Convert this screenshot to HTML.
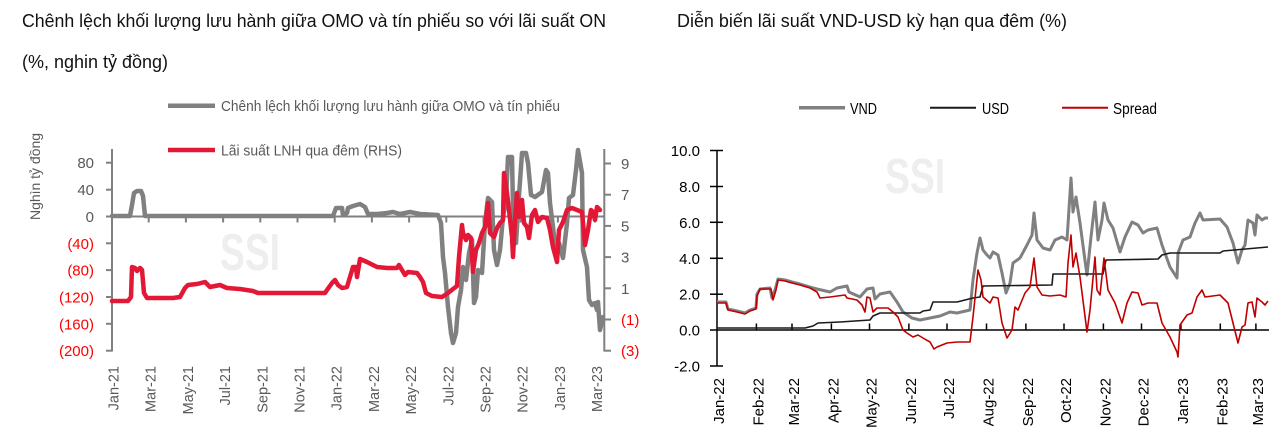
<!DOCTYPE html>
<html>
<head>
<meta charset="utf-8">
<style>
html,body{margin:0;padding:0;background:#fff;}
svg{display:block;}
text{font-family:"Liberation Sans","Noto Sans CJK SC",sans-serif;}
</style>
</head>
<body>
<svg width="1284" height="433" viewBox="0 0 1284 433" xmlns="http://www.w3.org/2000/svg">
<rect x="0" y="0" width="1284" height="433" fill="#fff"/>

<!-- Titles -->
<text x="22" y="27" font-size="18" fill="#111" textLength="584" lengthAdjust="spacingAndGlyphs">Chênh lệch khối lượng lưu hành giữa OMO và tín phiếu so với lãi suất ON</text>
<text x="22" y="68" font-size="18" fill="#111" textLength="146" lengthAdjust="spacingAndGlyphs">(%, nghin tỷ đồng)</text>
<text x="677" y="27" font-size="18" fill="#111" textLength="390" lengthAdjust="spacingAndGlyphs">Diễn biến lãi suất VND-USD kỳ hạn qua đêm (%)</text>

<!-- Watermarks -->
<text x="220" y="270" font-size="52" font-weight="bold" fill="#eeeeee" textLength="60" lengthAdjust="spacingAndGlyphs">SSI</text>
<text x="885" y="193" font-size="49" font-weight="bold" fill="#eeeeee" textLength="60" lengthAdjust="spacingAndGlyphs">SSI</text>

<!-- ================= LEFT CHART ================= -->
<!-- legend -->
<line x1="168" y1="105.7" x2="215" y2="105.7" stroke="#808080" stroke-width="4.5"/>
<text x="221" y="111" font-size="15" fill="#595959" textLength="339" lengthAdjust="spacingAndGlyphs">Chênh lệch khối lượng lưu hành giữa OMO và tín phiếu</text>
<line x1="168" y1="150" x2="215" y2="150" stroke="#E31837" stroke-width="4.5"/>
<text x="221" y="155.5" font-size="15" fill="#595959" textLength="181" lengthAdjust="spacingAndGlyphs">Lãi suất LNH qua đêm (RHS)</text>

<!-- y axis title -->
<text transform="translate(40,176.5) rotate(-90)" text-anchor="middle" font-size="14" fill="#595959" textLength="87" lengthAdjust="spacingAndGlyphs">Nghìn tỷ đồng</text>

<!-- left axis -->
<g stroke="#808080" stroke-width="2" fill="none">
<line x1="112" y1="149" x2="112" y2="351.5"/>
<line x1="106" y1="162.7" x2="112" y2="162.7"/>
<line x1="106" y1="189.7" x2="112" y2="189.7"/>
<line x1="106" y1="216.5" x2="112" y2="216.5"/>
<line x1="106" y1="243.3" x2="112" y2="243.3"/>
<line x1="106" y1="270.1" x2="112" y2="270.1"/>
<line x1="106" y1="297" x2="112" y2="297"/>
<line x1="106" y1="323.8" x2="112" y2="323.8"/>
<line x1="106" y1="350.7" x2="112" y2="350.7"/>
<!-- right axis -->
<line x1="604.3" y1="149" x2="604.3" y2="351.5"/>
<line x1="604.3" y1="163.5" x2="611" y2="163.5"/>
<line x1="604.3" y1="194.7" x2="611" y2="194.7"/>
<line x1="604.3" y1="225.9" x2="611" y2="225.9"/>
<line x1="604.3" y1="257.1" x2="611" y2="257.1"/>
<line x1="604.3" y1="288.3" x2="611" y2="288.3"/>
<line x1="604.3" y1="319.5" x2="611" y2="319.5"/>
<line x1="604.3" y1="350.7" x2="611" y2="350.7"/>
<!-- zero line -->
<line x1="112" y1="216.5" x2="604.3" y2="216.5"/>
<!-- x ticks -->
<line x1="148.7" y1="216.5" x2="148.7" y2="222.5"/>
<line x1="185.9" y1="216.5" x2="185.9" y2="222.5"/>
<line x1="223.1" y1="216.5" x2="223.1" y2="222.5"/>
<line x1="260.3" y1="216.5" x2="260.3" y2="222.5"/>
<line x1="297.5" y1="216.5" x2="297.5" y2="222.5"/>
<line x1="334.7" y1="216.5" x2="334.7" y2="222.5"/>
<line x1="371.9" y1="216.5" x2="371.9" y2="222.5"/>
<line x1="409.1" y1="216.5" x2="409.1" y2="222.5"/>
<line x1="446.3" y1="216.5" x2="446.3" y2="222.5"/>
<line x1="483.5" y1="216.5" x2="483.5" y2="222.5"/>
<line x1="520.7" y1="216.5" x2="520.7" y2="222.5"/>
<line x1="557.9" y1="216.5" x2="557.9" y2="222.5"/>
<line x1="595.1" y1="216.5" x2="595.1" y2="222.5"/>
</g>

<!-- left y labels -->
<g font-size="15" text-anchor="end">
<text x="94" y="168" fill="#595959">80</text>
<text x="94" y="195" fill="#595959">40</text>
<text x="94" y="222" fill="#595959">0</text>
<text x="94" y="248.8" fill="#FF0000">(40)</text>
<text x="94" y="275.6" fill="#FF0000">(80)</text>
<text x="94" y="302.5" fill="#FF0000">(120)</text>
<text x="94" y="329.3" fill="#FF0000">(160)</text>
<text x="94" y="356.2" fill="#FF0000">(200)</text>
</g>
<!-- right y labels -->
<g font-size="15">
<text x="621" y="169" fill="#595959">9</text>
<text x="621" y="200.2" fill="#595959">7</text>
<text x="621" y="231.4" fill="#595959">5</text>
<text x="621" y="262.6" fill="#595959">3</text>
<text x="621" y="293.8" fill="#595959">1</text>
<text x="621" y="325" fill="#FF0000">(1)</text>
<text x="621" y="356.2" fill="#FF0000">(3)</text>
</g>

<!-- left x labels -->
<g font-size="14.5" fill="#595959" text-anchor="end">
<text transform="translate(118.5,366) rotate(-90)">Jan-21</text>
<text transform="translate(155.7,366) rotate(-90)">Mar-21</text>
<text transform="translate(192.9,366) rotate(-90)">May-21</text>
<text transform="translate(230.1,366) rotate(-90)">Jul-21</text>
<text transform="translate(267.3,366) rotate(-90)">Sep-21</text>
<text transform="translate(304.5,366) rotate(-90)">Nov-21</text>
<text transform="translate(341.7,366) rotate(-90)">Jan-22</text>
<text transform="translate(378.9,366) rotate(-90)">Mar-22</text>
<text transform="translate(416.1,366) rotate(-90)">May-22</text>
<text transform="translate(453.3,366) rotate(-90)">Jul-22</text>
<text transform="translate(490.5,366) rotate(-90)">Sep-22</text>
<text transform="translate(527.7,366) rotate(-90)">Nov-22</text>
<text transform="translate(564.9,366) rotate(-90)">Jan-23</text>
<text transform="translate(602.1,366) rotate(-90)">Mar-23</text>
</g>

<!-- left gray series -->
<polyline fill="none" stroke="#808080" stroke-width="4.5" stroke-linejoin="round" stroke-linecap="round" points="112,216 130,216 132,205 134,193 137,191 141,191 143,196 145,216 333,216 336,208 342,208 343,215 347,213 348,208 353,206 360,204 365,207 368,214 377,214 387,213 393,212 400,214 410,212 420,214 438,215 441,223 443,257 445,273 448,307 451,333 453,343 456,333 458,307 461,290 463,267 466,280 469,253 472,240 474,303 476,297 478,270 482,273 485,223 488,198 492,202 494,250 497,265 500,250 503,217 506,200 508,157 512,157 513,207 516,243 518,210 522,153 526,153 528,163 531,195 535,197 542,192 546,170 548,173 550,203 553,227 556,253 559,243 563,258 567,223 569,198 573,195 576,170 578,150 582,173 583,250 587,267 589,300 592,305 595,303 597,310 598,302 600,330 603,317"/>

<!-- left red series -->
<polyline fill="none" stroke="#E31837" stroke-width="4.5" stroke-linejoin="round" stroke-linecap="round" points="112,301 128,301 131,297 132,267 135,268 137,271 140,268 142,270 144,293 147,298 173,298 180,297 185,288 188,285 197,284 205,282 210,287 220,285 227,288 240,289 253,291 258,293 283,293 325,293 327,290 332,283 335,280 338,285 342,288 347,287 350,277 353,267 356,267 357,277 360,259 367,262 377,267 387,268 397,268 399,265 405,275 408,272 417,273 420,277 423,282 426,293 432,296 442,297 448,293 453,289 457,286 459,257 462,225 463,233 466,240 468,235 471,238 473,272 476,250 479,243 482,233 485,227 488,203 490,233 494,237 497,228 500,223 503,220 504,173 507,193 509,210 512,237 513,257 515,220 517,193 519,217 522,200 524,223 527,227 529,238 532,215 535,210 538,222 542,217 547,218 550,230 553,247 557,262 559,230 563,222 567,210 572,208 577,210 582,212 585,245 588,230 591,210 593,212 595,220 597,207 600,210"/>

<!-- ================= RIGHT CHART ================= -->
<!-- legend -->
<line x1="799" y1="107.7" x2="845" y2="107.7" stroke="#808080" stroke-width="3.5"/>
<text x="850" y="114" font-size="15.5" fill="#000" textLength="27" lengthAdjust="spacingAndGlyphs">VND</text>
<line x1="930" y1="107.7" x2="976" y2="107.7" stroke="#1a1a1a" stroke-width="2"/>
<text x="982" y="114" font-size="15.5" fill="#000" textLength="27" lengthAdjust="spacingAndGlyphs">USD</text>
<line x1="1062" y1="107.7" x2="1108" y2="107.7" stroke="#C00000" stroke-width="2"/>
<text x="1113" y="114" font-size="15.5" fill="#000" textLength="44" lengthAdjust="spacingAndGlyphs">Spread</text>

<!-- axes -->
<g stroke="#000" stroke-width="1.5" fill="none">
<line x1="717" y1="150" x2="717" y2="366.5"/>
<line x1="710" y1="150.5" x2="723" y2="150.5"/>
<line x1="710" y1="186.5" x2="723" y2="186.5"/>
<line x1="710" y1="222.3" x2="723" y2="222.3"/>
<line x1="710" y1="258.3" x2="723" y2="258.3"/>
<line x1="710" y1="294.2" x2="723" y2="294.2"/>
<line x1="710" y1="366" x2="723" y2="366"/>
<line x1="710" y1="330" x2="1269" y2="330"/>
<line x1="756.4" y1="330" x2="756.4" y2="323.5"/>
<line x1="792" y1="330" x2="792" y2="323.5"/>
<line x1="831.4" y1="330" x2="831.4" y2="323.5"/>
<line x1="869.5" y1="330" x2="869.5" y2="323.5"/>
<line x1="908.9" y1="330" x2="908.9" y2="323.5"/>
<line x1="947" y1="330" x2="947" y2="323.5"/>
<line x1="986.5" y1="330" x2="986.5" y2="323.5"/>
<line x1="1025.9" y1="330" x2="1025.9" y2="323.5"/>
<line x1="1064" y1="330" x2="1064" y2="323.5"/>
<line x1="1103.4" y1="330" x2="1103.4" y2="323.5"/>
<line x1="1141.5" y1="330" x2="1141.5" y2="323.5"/>
<line x1="1180.9" y1="330" x2="1180.9" y2="323.5"/>
<line x1="1220.3" y1="330" x2="1220.3" y2="323.5"/>
<line x1="1255.9" y1="330" x2="1255.9" y2="323.5"/>
</g>

<!-- right y labels -->
<g font-size="15" text-anchor="end" fill="#000">
<text x="700" y="156">10.0</text>
<text x="700" y="192">8.0</text>
<text x="700" y="227.8">6.0</text>
<text x="700" y="263.8">4.0</text>
<text x="700" y="299.7">2.0</text>
<text x="700" y="335.5">0.0</text>
<text x="700" y="371.5">-2.0</text>
</g>

<!-- right x labels -->
<g font-size="15" fill="#000" text-anchor="end">
<text transform="translate(724,378) rotate(-90)">Jan-22</text>
<text transform="translate(763.4,378) rotate(-90)">Feb-22</text>
<text transform="translate(799,378) rotate(-90)">Mar-22</text>
<text transform="translate(838.4,378) rotate(-90)">Apr-22</text>
<text transform="translate(876.5,378) rotate(-90)">May-22</text>
<text transform="translate(915.9,378) rotate(-90)">Jun-22</text>
<text transform="translate(954,378) rotate(-90)">Jul-22</text>
<text transform="translate(993.5,378) rotate(-90)">Aug-22</text>
<text transform="translate(1032.9,378) rotate(-90)">Sep-22</text>
<text transform="translate(1071,378) rotate(-90)">Oct-22</text>
<text transform="translate(1110.4,378) rotate(-90)">Nov-22</text>
<text transform="translate(1148.5,378) rotate(-90)">Dec-22</text>
<text transform="translate(1187.9,378) rotate(-90)">Jan-23</text>
<text transform="translate(1227.3,378) rotate(-90)">Feb-23</text>
<text transform="translate(1262.9,378) rotate(-90)">Mar-23</text>
</g>

<!-- VND -->
<polyline fill="none" stroke="#808080" stroke-width="3" stroke-linejoin="round" points="717,302 726,302 728,309 737,311 745,313 750,310 756,308 757,294 760,289 770,288 772,298 775,290 778,279 785,280 792,282 800,284 810,287 817,289 830,292 837,288 847,286 849,292 860,297 867,289 873,288 875,299 880,294 890,292 897,302 903,312 912,318 920,320 930,318 940,316 950,312 957,313 970,310 973,280 977,253 980,238 983,250 987,255 990,258 993,252 998,255 1002,273 1006,293 1010,283 1013,263 1020,258 1027,245 1032,235 1034,213 1037,240 1043,248 1050,250 1055,240 1062,237 1067,240 1071,178 1073,212 1076,197 1080,223 1084,253 1087,275 1091,237 1095,202 1098,240 1102,220 1104,203 1108,220 1113,228 1120,252 1125,237 1132,222 1138,225 1143,233 1148,230 1157,228 1162,245 1170,267 1177,278 1178,253 1183,240 1190,237 1195,223 1200,213 1203,220 1220,219 1227,227 1233,243 1238,263 1242,250 1245,245 1248,220 1253,223 1255,235 1257,215 1262,220 1265,218 1268,218"/>

<!-- USD -->
<polyline fill="none" stroke="#1a1a1a" stroke-width="1.6" stroke-linejoin="round" points="717,328 797,328 805,328 813,326 818,323 840,322 870,320 873,316 880,313 920,313 923,311 930,310 933,302 957,302 973,298 980,297 983,286 1052,285 1053,274 1103,274 1106,260 1158,259 1162,255 1170,253 1220,253 1223,251 1268,247"/>

<!-- Spread -->
<polyline fill="none" stroke="#C00000" stroke-width="1.6" stroke-linejoin="round" points="717,303 726,303 728,310 737,312 745,314 750,311 756,309 757,296 760,289 771,289 773,300 776,290 778,280 785,281 792,283 800,285 810,288 817,292 820,298 830,297 845,295 847,298 857,300 862,305 865,312 867,297 870,298 873,312 877,308 888,308 893,312 898,317 903,330 907,333 913,337 918,335 923,338 930,342 934,349 937,347 947,343 957,342 970,342 973,317 978,270 981,280 983,297 990,303 993,297 998,298 1002,323 1007,338 1012,330 1015,307 1018,310 1025,293 1030,287 1034,258 1037,287 1042,295 1050,296 1060,295 1066,297 1068,263 1071,235 1073,267 1076,253 1080,277 1087,332 1090,310 1095,257 1097,290 1100,295 1104,258 1108,290 1115,303 1122,323 1127,303 1132,292 1138,293 1142,305 1148,303 1157,303 1162,323 1170,337 1177,352 1178,357 1180,325 1187,315 1192,313 1197,297 1202,290 1205,297 1220,295 1228,303 1233,323 1238,343 1242,327 1245,325 1248,303 1252,302 1255,317 1257,298 1262,302 1265,305 1268,301"/>

</svg>
</body>
</html>
